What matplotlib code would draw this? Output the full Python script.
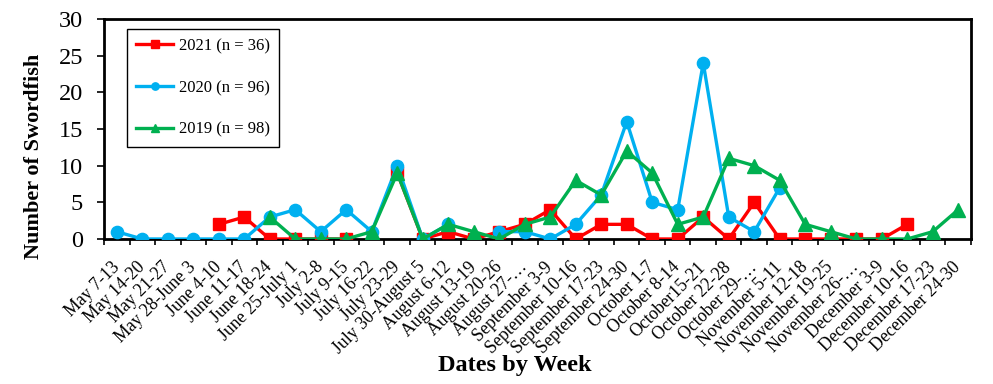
import numpy as np
import matplotlib
matplotlib.use("Agg")
import matplotlib.pyplot as plt
from matplotlib.ticker import FixedLocator

nan = np.nan
weeks = ["May 7-13", "May 14-20", "May 21-27", "May 28-June 3", "June 4-10",
         "June 11-17", "June 18-24", "June 25-July 1", "July 2-8", "July 9-15",
         "July 16-22", "July 23-29", "July 30-August 5", "August 6-12",
         "August 13-19", "August 20-26", "August 27-…", "September 3-9",
         "September 10-16", "September 17-23", "September 24-30", "October 1-7",
         "October 8-14", "October15-21", "October 22-28", "October 29-…",
         "November 5-11", "November 12-18", "November 19-25", "November 26-…",
         "December 3-9", "December 10-16", "December 17-23", "December 24-30"]

y2021 = [nan, nan, nan, nan, 2, 3, 0, 0, 0, 0, nan, 9, 0, 1, 0, 1, 2, 4,
         0, 2, 2, 0, 0, 3, 0, 5, 0, 0, 0, 0, 0, 2, nan, nan]
y2020 = [1, 0, 0, 0, 0, 0, 3, 4, 1, 4, 1, 10, 0, 2, nan, 1, 1, 0,
         2, 6, 16, 5, 4, 24, 3, 1, 7, nan, nan, nan, nan, nan, nan, nan]
y2019 = [nan, nan, nan, nan, nan, nan, 3, 0, 0, 0, 1, 9, 0, 2, 1, 0, 2, 3,
         8, 6, 12, 9, 2, 3, 11, 10, 8, 2, 1, 0, 0, 0, 1, 4]

labels = ["2021 (n = 36)", "2020 (n = 96)", "2019 (n = 98)"]

plt.rcParams['font.family'] = ['Liberation Serif', 'DejaVu Serif']

fig = plt.figure(figsize=(9.93, 3.84), dpi=100)
ax = fig.add_axes([104/993, 1-239/384, (971-104)/993, (239-19)/384])

x = np.arange(len(weeks))
ax.plot(x, y2021, color='#FF0000', lw=2.4, marker='s', ms=9, label=labels[0], zorder=3)
ax.plot(x, y2020, color='#00B0F0', lw=2.4, marker='o', ms=8.8, label=labels[1], zorder=4)
ax.plot(x, y2019, color='#00B050', lw=2.4, marker='^', ms=9.5, label=labels[2], zorder=5)

ax.set_xlim(-0.5, len(weeks)-0.5)
ax.set_ylim(0, 30)
ax.set_yticks(range(0, 31, 5))
ax.tick_params(axis='y', labelsize=17.5, length=5, width=1.2, direction='out', pad=10)

ax.set_xticks(x)
ax.set_xticklabels(weeks, rotation=45, ha='right', va='center',
                   rotation_mode='anchor', fontsize=12.8)
ax.tick_params(axis='x', which='major', length=0, pad=18.5)
ax.xaxis.set_minor_locator(FixedLocator(np.arange(-0.5, len(weeks), 1)))
ax.tick_params(axis='x', which='minor', length=4.5, width=1.2, direction='out')

for s in ax.spines.values():
    s.set_linewidth(2)

fig.text(34/993, 1-156/384, "Number of Swordfish", rotation=90, fontsize=16,
         fontweight='bold', ha='center', va='center')
fig.text(515/993, 1-366/384, "Dates by Week", fontsize=17.5,
         fontweight='bold', ha='center', va='center')

leg = ax.legend(loc='upper left', bbox_to_anchor=((127-104)/867, (239-29)/220),
                fontsize=12, labelspacing=1.55, handlelength=2.2, markerscale=0.6,
                fancybox=False, edgecolor='black', framealpha=1,
                borderpad=0.55, handletextpad=0.35, borderaxespad=0)
leg.get_frame().set_linewidth(1)

fig.savefig("out.png", dpi=100)
